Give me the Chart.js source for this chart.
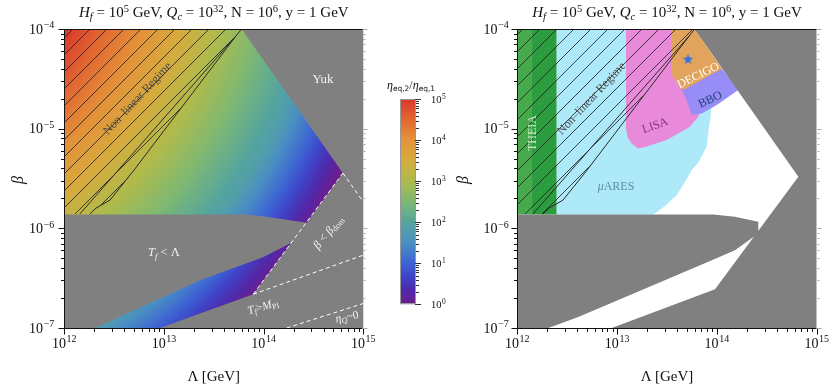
<!DOCTYPE html>
<html><head><meta charset="utf-8">
<script src="https://cdn.jsdelivr.net/npm/chart.js@4.4.1/dist/chart.umd.min.js"></script>
<style>
html,body{margin:0;padding:0;background:#fff;}
#wrap{position:relative;width:830px;height:388px;overflow:hidden;font-family:"Liberation Serif","DejaVu Serif",serif;color:#111;}
canvas{position:absolute;}
.lbl{position:absolute;white-space:nowrap;line-height:1;transform-origin:center center;}
sub,sup{font-size:0.7em;line-height:0;position:relative;vertical-align:baseline;}
sup{top:-0.45em;} sub{top:0.28em;}
.sans sub{font-family:"DejaVu Sans",sans-serif;font-size:0.62em;}
</style></head><body><div id="wrap">
<canvas id="left" width="380" height="388" style="left:0;top:0"></canvas>
<canvas id="cbar" width="70" height="270" style="left:380px;top:60px"></canvas>
<canvas id="right" width="380" height="388" style="left:450px;top:0"></canvas>
</div>
<script>
// ---------------- DATA (log10(Λ / GeV), log10 β) ----------------
const xTickExponents = [12, 13, 14, 15];
const yTickExponents = [-7, -6, -5, -4];
const cbarExponents  = [0, 1, 2, 3, 4, 5];
// η_eq,2/η_eq,1: its contours are arcs around etaCentre;
// log10 ratio etaLogValues[i] is reached at distance etaRadius[i] (decades) from it
const etaCentre    = [9.984, -3.042];
const etaRadius    = [2.232, 4.59, 5.34];
const etaLogValues = [5, 1.8, 0];

const nonLinearEdgeA = [[13.779,-4.0],[13.722,-4.07],[12.699,-5.416],[12.458,-5.717],[12.388,-5.757],[12.318,-5.797],[12.258,-5.855]];
const nonLinearEdgeB = [[13.722,-4.07],[12.157,-5.855]];
const nonLinearRegion = [[12.0,-4.0],[13.779,-4.0],[13.722,-4.07],[12.699,-5.416],[12.458,-5.717],[12.388,-5.757],[12.318,-5.797],[12.258,-5.855],[12.0,-5.855]];

// left panel
const allowedUpper = [[12.0,-4.0],[13.779,-4.0],[14.795,-5.446],[14.431,-5.945],[14.297,-5.925],[14.163,-5.903],[14.03,-5.885],[13.822,-5.862],[12.0,-5.86]];
const allowedLower = [[12.308,-7.0],[13.361,-6.52],[13.993,-6.289],[14.274,-6.146],[13.896,-6.661],[12.96,-7.0]];
const betaDomLine  = [[13.896,-6.661],[14.795,-5.446]];
const yukExtLine   = [[14.795,-5.446],[15.0,-5.734]];
const planckLine   = [[13.896,-6.661],[15.0,-6.269]];
const etaZeroLine  = [[14.231,-7.0],[15.0,-6.754]];

// right panel
const excludedTf  = [[12.0,-5.86],[13.964,-5.86],[14.18,-5.884],[14.415,-5.935],[14.415,-6.051],[14.181,-6.219],[13.914,-6.336],[12.611,-6.889],[12.311,-7.0],[12.0,-7.0]];
const excludedYuk = [[13.775,-4.0],[15.0,-4.0],[15.0,-7.0],[12.946,-7.0],[13.981,-6.61],[14.816,-5.483]];
const theiaA = [[12.0,-4.0],[12.147,-4.0],[12.147,-5.86],[12.0,-5.86]];
const theiaB = [[12.147,-4.0],[12.395,-4.0],[12.395,-5.86],[12.147,-5.86]];
const muAres = [[12.395,-4.0],[13.831,-4.0],[13.951,-4.713],[13.936,-4.884],[13.916,-5.014],[13.898,-5.182],[13.811,-5.345],[13.747,-5.416],[13.68,-5.536],[13.597,-5.667],[13.48,-5.777],[13.363,-5.86],[12.395,-5.86]];
const lisa   = [[13.089,-4.0],[13.73,-4.0],[13.831,-4.813],[13.814,-4.881],[13.73,-4.981],[13.497,-5.114],[13.28,-5.185],[13.212,-5.198],[13.149,-5.155],[13.104,-5.084],[13.089,-4.997]];
const decigo = [[13.547,-4.0],[13.775,-4.0],[14.051,-4.399],[13.665,-4.612],[13.63,-4.592],[13.547,-4.452]];
const bbo    = [[13.547,-4.445],[13.63,-4.579],[13.697,-4.713],[13.747,-4.863],[13.848,-4.848],[13.998,-4.763],[14.214,-4.612],[14.051,-4.399]];
const benchmark = [[13.71,-4.301]];

// ---------------- STYLE ----------------
const HEAT_STOPS = [[0.00,'#6c1d8e'],[0.07,'#4f2aab'],[0.14,'#3f45c9'],[0.20,'#3d63d3'],[0.30,'#4a8fc3'],[0.40,'#55a59d'],[0.50,'#7db873'],[0.60,'#adbb4d'],[0.70,'#d5ac3e'],[0.80,'#e3933a'],[0.90,'#e26932'],[1.00,'#d9352a']];
const GRAY = '#808080';
const FONT = '"Liberation Serif","DejaVu Serif",serif';

const toXY = arr => arr.map(([l,b]) => ({x: Math.pow(10,l), y: Math.pow(10,b)}));
const closed = arr => arr.concat([arr[0]]);
function polygon(arr, fill) {
  return {data: toXY(closed(arr)), fill: 'shape', backgroundColor: fill, borderWidth: 0,
          borderColor: 'rgba(0,0,0,0)', pointRadius: 0, pointHoverRadius: 0, tension: 0};
}
function polyline(arr, color, width, dash) {
  return {data: toXY(arr), fill: false, borderColor: color, borderWidth: width, borderDash: dash || [],
          pointRadius: 0, pointHoverRadius: 0, tension: 0, backgroundColor: 'rgba(0,0,0,0)'};
}
function hatchPattern() {
  const s = 17, c = document.createElement('canvas'); c.width = s; c.height = s;
  const g = c.getContext('2d'); g.strokeStyle = 'rgba(35,35,35,0.95)'; g.lineWidth = 0.9;
  g.beginPath();
  g.moveTo(-2, s + 2); g.lineTo(s + 2, -2);
  g.moveTo(-2, 2); g.lineTo(2, -2);
  g.moveTo(s - 2, s + 2); g.lineTo(s + 2, s - 2);
  g.stroke();
  return g.createPattern(c, 'repeat');
}
function starCanvas(size, color) {
  const c = document.createElement('canvas'); c.width = c.height = size; const g = c.getContext('2d');
  const cx = size / 2, cy = size / 2 + 0.5, R = size / 2, r = R * 0.42;
  g.beginPath();
  for (let i = 0; i < 10; i++) { const a = -Math.PI / 2 + i * Math.PI / 5, rad = i % 2 ? r : R; g.lineTo(cx + rad * Math.cos(a), cy + rad * Math.sin(a)); }
  g.closePath(); g.fillStyle = color; g.fill(); return c;
}
function hexRgb(h) { return [1, 3, 5].map(i => parseInt(h.substr(i, 2), 16)); }
function heatColor(t) {
  t = Math.max(0, Math.min(1, t));
  for (let i = 1; i < HEAT_STOPS.length; i++) {
    const [t0, c0] = HEAT_STOPS[i - 1], [t1, c1] = HEAT_STOPS[i];
    if (t <= t1 + 1e-9) {
      const f = (t - t0) / (t1 - t0), a = hexRgb(c0), b = hexRgb(c1);
      return 'rgb(' + a.map((v, k) => Math.round(v + (b[k] - v) * f)).join(',') + ')';
    }
  }
  return HEAT_STOPS[HEAT_STOPS.length - 1][1];
}
function radiusFor(v) {
  for (let i = 1; i < etaLogValues.length; i++) {
    const v0 = etaLogValues[i - 1], v1 = etaLogValues[i];
    if (v >= v1 - 1e-9) return etaRadius[i - 1] + (etaRadius[i] - etaRadius[i - 1]) * (v0 - v) / (v0 - v1);
  }
  return etaRadius[etaRadius.length - 1];
}
function heatFill(ctx) {
  const ch = ctx.chart, xs = ch.scales.x, ys = ch.scales.y;
  if (!ch.chartArea || !xs || !ys) return '#7db873';
  const cx = xs.getPixelForValue(Math.pow(10, etaCentre[0])), cy = ys.getPixelForValue(Math.pow(10, etaCentre[1]));
  const ppd = ((xs.getPixelForValue(1e13) - xs.getPixelForValue(1e12)) + (ys.getPixelForValue(1e-6) - ys.getPixelForValue(1e-5))) / 2;
  if (![cx, cy, ppd].every(isFinite) || ppd <= 0) return '#7db873';
  const rA = etaRadius[0], rB = etaRadius[etaRadius.length - 1];
  const g = ch.ctx.createRadialGradient(cx, cy, rA * ppd, cx, cy, rB * ppd);
  const vMax = etaLogValues[0];
  for (let i = 0; i <= 50; i++) {
    const v = vMax * (1 - i / 50);
    g.addColorStop((radiusFor(v) - rA) / (rB - rA), heatColor(v / 5));
  }
  return g;
}
function cbarFill(ctx) {
  const ch = ctx.chart, ys = ch.scales.y;
  if (!ch.chartArea || !ys) return '#7db873';
  const y0 = ys.getPixelForValue(1), y1 = ys.getPixelForValue(1e5);
  if (![y0, y1].every(isFinite)) return '#7db873';
  const g = ch.ctx.createLinearGradient(0, y0, 0, y1);
  for (const [t, c] of HEAT_STOPS) g.addColorStop(t, c);
  return g;
}
function drawPow(ctx, x, y, exp, align, bs, es) {
  const base = '10', e = exp < 0 ? '\u2212' + (-exp) : String(exp);
  ctx.font = bs + 'px ' + FONT; const wb = ctx.measureText(base).width;
  ctx.font = es + 'px ' + FONT; const we = ctx.measureText(e).width;
  const tot = wb + 0.6 + we;
  const x0 = align === 'center' ? x - tot / 2 : align === 'right' ? x - tot : x;
  ctx.textAlign = 'left'; ctx.textBaseline = 'alphabetic'; ctx.fillStyle = '#111';
  ctx.font = bs + 'px ' + FONT; ctx.fillText(base, x0, y);
  ctx.font = es + 'px ' + FONT; ctx.fillText(e, x0 + wb + 0.6, y - bs * 0.4);
}
function decadeValues(lo, hi) {
  const v = [];
  for (let e = lo; e < hi; e++) for (let k = 1; k < 10; k++) v.push({v: k * Math.pow(10, e), major: k === 1});
  v.push({v: Math.pow(10, hi), major: true});
  return v;
}
const framePlugin = {
  id: 'frame',
  beforeDraw(chart, args, o) {
    const {ctx, chartArea: a} = chart;
    ctx.save(); ctx.fillStyle = o.bg; ctx.fillRect(a.left, a.top, a.right - a.left, a.bottom - a.top); ctx.restore();
  },
  afterDraw(chart, args, o) {
    const {ctx, chartArea: a} = chart, xs = chart.scales.x, ys = chart.scales.y;
    ctx.save();
    ctx.strokeStyle = '#111'; ctx.lineWidth = 1;
    const L = Math.round(a.left) + 0.5, B = Math.round(a.bottom) + 0.5, T = Math.round(a.top) + 0.5, R = Math.round(a.right) - 0.5;
    ctx.beginPath(); ctx.moveTo(R, T); ctx.lineTo(L, T); ctx.lineTo(L, B); ctx.lineTo(R, B); ctx.stroke();
    const xt = decadeValues(xTickExponents[0], xTickExponents[xTickExponents.length - 1]);
    const yt = decadeValues(yTickExponents[0], yTickExponents[yTickExponents.length - 1]);
    ctx.beginPath();
    for (const t of xt) { const p = Math.round(xs.getPixelForValue(t.v)) + 0.5; ctx.moveTo(p, B); ctx.lineTo(p, B + (t.major ? 6 : 3.5)); }
    for (const t of yt) { const p = Math.round(ys.getPixelForValue(t.v)) + 0.5; ctx.moveTo(L, p); ctx.lineTo(L - (t.major ? 6 : 3.5), p); }
    ctx.stroke();
    ctx.strokeStyle = '#aaa'; ctx.beginPath();
    for (const t of yt) { const p = Math.round(ys.getPixelForValue(t.v)) + 0.5; ctx.moveTo(R + 1, p); ctx.lineTo(R + 1 + (t.major ? 4 : 2), p); }
    ctx.stroke();
    for (const e of xTickExponents) drawPow(ctx, xs.getPixelForValue(Math.pow(10, e)), a.bottom + 20, e, 'center', 14, 10);
    for (const e of yTickExponents) drawPow(ctx, a.left - o.ylabGap, ys.getPixelForValue(Math.pow(10, e)) + 4.8, e, 'right', 14, 10);
    ctx.restore();
  }
};
const cbarPlugin = {
  id: 'cbarframe',
  afterDraw(chart) {
    const {ctx, chartArea: a} = chart, ys = chart.scales.y;
    ctx.save();
    ctx.strokeStyle = '#999'; ctx.lineWidth = 1;
    ctx.strokeRect(Math.round(a.left) + 0.5, Math.round(a.top) + 0.5, Math.round(a.right - a.left) - 1, Math.round(a.bottom - a.top) - 1);
    ctx.strokeStyle = '#333'; ctx.beginPath();
    const R = Math.round(a.right);
    for (const t of decadeValues(cbarExponents[0], cbarExponents[cbarExponents.length - 1])) {
      const p = Math.round(ys.getPixelForValue(t.v)) + 0.5; ctx.moveTo(R - (t.major ? 1 : 0), p); ctx.lineTo(R + (t.major ? 5 : 3), p);
    }
    ctx.stroke();
    for (const e of cbarExponents) drawPow(ctx, a.right + 15, ys.getPixelForValue(Math.pow(10, e)) + 3.6, e, 'left', 10.5, 7.5);
    ctx.restore();
  }
};
function axes(yw) {
  return {
    x: {type: 'logarithmic', min: 1e12, max: 1e15, ticks: {display: false}, grid: {display: false}, border: {display: false}, afterFit: s => { s.height = 60; }},
    y: {type: 'logarithmic', min: 1e-7, max: 1e-4, ticks: {display: false}, grid: {display: false}, border: {display: false}, afterFit: s => { s.width = yw; }}
  };
}
const hatch = hatchPattern();

// ---------------- LEFT PANEL ----------------
const leftChart = new Chart(document.getElementById('left'), {
  type: 'line',
  data: {datasets: [
    polyline(nonLinearEdgeA, '#2b2b2b', 1),
    polyline(nonLinearEdgeB, '#2b2b2b', 1),
    polyline(betaDomLine, '#ffffff', 1, [4, 3]),
    polyline(yukExtLine, '#ffffff', 1, [4, 3]),
    polyline(planckLine, '#ffffff', 1, [4, 3]),
    polyline(etaZeroLine, '#ffffff', 1, [4, 3]),
    polygon(nonLinearRegion, hatch),
    polygon(allowedUpper, heatFill),
    polygon(allowedLower, heatFill)
  ]},
  options: {responsive: false, animation: false, events: [],
    layout: {padding: {left: 0, right: 16.7, top: 29, bottom: 0}},
    plugins: {legend: {display: false}, tooltip: {enabled: false}, frame: {bg: GRAY, ylabGap: 10}},
    scales: axes(64.3)},
  plugins: [framePlugin]
});

// ---------------- COLOUR BAR ----------------
const cbarChart = new Chart(document.getElementById('cbar'), {
  type: 'bar',
  data: {labels: ['ratio'], datasets: [{data: [[1, 1e5]], backgroundColor: cbarFill, borderWidth: 0, barPercentage: 1, categoryPercentage: 1}]},
  options: {responsive: false, animation: false, events: [],
    layout: {padding: {left: 20.3, right: 0, top: 39.3, bottom: 25.7}},
    plugins: {legend: {display: false}, tooltip: {enabled: false}},
    scales: {x: {display: false},
             y: {type: 'logarithmic', position: 'right', min: 1, max: 1e5, ticks: {display: false}, grid: {display: false}, border: {display: false}, afterFit: s => { s.width = 34; }}}},
  plugins: [cbarPlugin]
});

// ---------------- RIGHT PANEL ----------------
const rightChart = new Chart(document.getElementById('right'), {
  type: 'line',
  data: {datasets: [
    {data: toXY(benchmark), showLine: false, pointStyle: starCanvas(11, '#2f6fe6'), pointRadius: 5.5, borderWidth: 0},
    polyline(nonLinearEdgeA, '#2b2b2b', 1),
    polyline(nonLinearEdgeB, '#2b2b2b', 1),
    polygon(nonLinearRegion, hatch),
    polygon(excludedTf, GRAY),
    polygon(excludedYuk, GRAY),
    polygon(decigo, '#e2a45c'),
    polygon(bbo, '#988cf6'),
    polygon(lisa, '#e88ad9'),
    polygon(muAres, '#ade9f9'),
    polygon(theiaB, '#2b9d3f'),
    polygon(theiaA, '#46a94b')
  ]},
  options: {responsive: false, animation: false, events: [],
    layout: {padding: {left: 0, right: 13.3, top: 29, bottom: 0}},
    plugins: {legend: {display: false}, tooltip: {enabled: false}, frame: {bg: '#ffffff', ylabGap: 8.5}},
    scales: axes(67.3)},
  plugins: [framePlugin]
});

// ---------------- TEXT ----------------
const wrap = document.getElementById('wrap');
function addText(html, x, y, opts) {
  const d = document.createElement('div'); d.className = 'lbl' + (opts.cls ? ' ' + opts.cls : ''); d.innerHTML = html;
  d.style.left = x + 'px'; d.style.top = y + 'px'; d.style.color = opts.color || '#111';
  d.style.fontSize = (opts.size || 12) + 'px';
  d.style.transform = 'translate(-50%,-50%) rotate(' + (opts.rot || 0) + 'deg)';
  wrap.appendChild(d);
}
const titleHtml = '<i>H<sub>f</sub></i> = 10<sup>5</sup> GeV, <i>Q<sub>c</sub></i> = 10<sup>32</sup>, N = 10<sup>6</sup>, y = 1 GeV';
function decorate(chart, offset, notes, betaGap) {
  const a = chart.chartArea, xs = chart.scales.x, ys = chart.scales.y;
  addText(titleHtml, offset + (a.left + a.right) / 2, 12, {size: 15});
  addText('Λ [GeV]', offset + (a.left + a.right) / 2, 376, {size: 15});
  addText('<i>β</i>', offset + a.left - betaGap, (a.top + a.bottom) / 2 + 1, {size: 16, rot: -90});
  for (const n of notes) {
    addText(n.html, offset + xs.getPixelForValue(Math.pow(10, n.at[0])), ys.getPixelForValue(Math.pow(10, n.at[1])), n);
  }
}
const W = '#f2f2f2';
decorate(leftChart, 0, [
  {at: [14.595, -4.492], html: 'Yuk', color: W, size: 13},
  {at: [12.734, -4.688], html: 'Non–linear Regime', color: '#4a4a4a', size: 12, rot: -47},
  {at: [13.0, -6.239], html: '<i>T<sub>f</sub></i> &lt; Λ', color: W, size: 12.5},
  {at: [14.65, -6.033], html: '<i>β</i> &lt; <i>β</i><sub>dom</sub>', color: W, size: 12, rot: -50},
  {at: [13.993, -6.786], html: '<i>T<sub>f</sub></i>&gt;<i>M</i><sub>Pl</sub>', color: W, size: 11.5, rot: -16},
  {at: [14.833, -6.887], html: '<i>η<sub>Q</sub></i>~0', color: W, size: 11.5, rot: -12}
], 46);
decorate(rightChart, 450, [
  {at: [12.144, -5.044], html: 'THEIA', color: '#c9ecc6', size: 12, rot: -90},
  {at: [12.743, -4.688], html: 'Non–linear Regime', color: '#4a4a4a', size: 12, rot: -47},
  {at: [13.38, -4.959], html: 'LISA', color: '#8a2f82', size: 12, rot: -20},
  {at: [13.811, -4.462], html: 'DECIGO', color: '#ffffff', size: 12, rot: -26},
  {at: [13.926, -4.698], html: 'BBO', color: '#24407e', size: 12, rot: -25},
  {at: [12.989, -5.576], html: '<i>μ</i>ARES', color: '#5d8ea2', size: 12}
], 54);
addText('<i>η</i><sub>eq,2</sub>/<i>η</i><sub>eq,1</sub>', 411, 85, {size: 12, cls: 'sans'});
</script>
</body></html>
